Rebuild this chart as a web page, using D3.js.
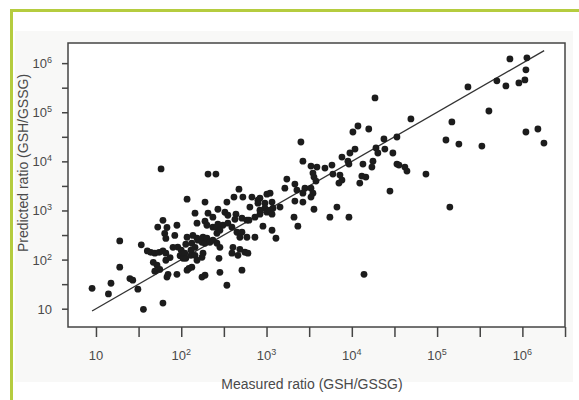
<!DOCTYPE html>
<html>
<head>
<meta charset="utf-8">
<script src="https://cdn.jsdelivr.net/npm/d3@7"></script>
<style>
  body { margin: 0; background: #fff; }
  text { font-family: "Liberation Sans", Arial, sans-serif; fill: #4a4a4a; }
</style>
</head>
<body>
<svg id="chart" width="579" height="400"></svg>
<script>
// measured vs predicted GSH/GSSG ratio
const measured = [
    9, 14, 15, 19, 19, 25, 27, 31, 36, 34,
    40, 44, 49, 55, 61, 66, 47, 52, 49, 56,
    66, 74, 68, 70, 89, 61, 53, 61, 68, 64,
    66, 89, 84, 58, 91, 100, 97, 110, 105, 117,
    123, 133, 117, 145, 137, 117, 133, 113, 80, 153,
    130, 145, 153, 157, 113, 130, 145, 175, 180, 190,
    200, 217, 235, 262, 284, 175, 180, 190, 175, 284,
    343, 190, 206, 255, 206, 269, 325, 352, 438, 426,
    190, 235, 269, 308, 200, 235, 262, 284, 343, 415,
    528, 674, 793, 837, 1010, 1100, 352, 393, 450, 515,
    589, 487, 589, 393, 462, 558, 487, 404, 515, 731,
    622, 731, 837, 957, 1010, 1190, 1440, 908, 1160, 1290,
    475, 638, 837, 957, 1100, 1160, 1160, 793, 262, 1640,
    1730, 2150, 2270, 2820, 3320, 3500, 3320, 2670, 2150, 2670,
    3600, 6690, 5530, 9250, 2100, 2330, 2530, 2670, 3320, 3900,
    4840, 5850, 3500, 3600, 3800, 7260, 7660, 7060, 7660, 9000,
    9500, 10900, 9250, 6000, 11800, 10300, 15800, 18700, 13500, 13100,
    14600, 12400, 17700, 17200, 19200, 20200, 24400, 30300, 23800, 33800,
    33800, 35700, 41900, 44300, 28000, 49300, 74000, 13900, 127000, 149000,
    141000, 180000, 230000, 335000, 405000, 502000, 641000, 714000, 910000, 1070000,
    1100000, 1130000, 1100000, 1520000, 1790000, 605, 277, 515, 153
];
const predicted = [
    26, 20, 33, 240, 70, 41, 38, 25, 9.7, 200,
    150, 140, 135, 140, 150, 135, 88, 77, 58, 63,
    97, 110, 44, 50, 50, 13, 460, 630, 450, 340,
    270, 500, 310, 7000, 180, 155, 120, 135, 106, 61,
    66, 70, 1700, 880, 310, 285, 215, 205, 178, 550,
    155, 178, 272, 248, 106, 122, 122, 225, 285, 215,
    272, 225, 248, 215, 178, 111, 135, 48, 44, 55,
    30, 1480, 5500, 5500, 880, 1060, 920, 800, 840, 660,
    605, 456, 525, 500, 500, 730, 456, 396, 1480, 1870,
    1870, 1870, 1620, 1780, 2150, 2250, 551, 456, 360, 697,
    634, 285, 285, 135, 122, 141, 162, 178, 61, 285,
    634, 730, 840, 1110, 923, 1110, 1170, 479, 396, 272,
    2720, 1170, 1010, 1410, 1010, 1480, 840, 1410, 344, 2850,
    4350, 3440, 2600, 2850, 2850, 2250, 1870, 2250, 1550, 1480,
    1060, 1170, 730, 730, 730, 479, 24800, 10100, 8020, 7650,
    7300, 8400, 5770, 4780, 3960, 5250, 4150, 3610, 12200, 10100,
    14800, 17800, 8810, 5500, 52500, 39600, 45600, 196000, 8810, 5010,
    4780, 3610, 10100, 7650, 18700, 14800, 17800, 14800, 28500, 31300,
    8810, 8400, 7650, 6340, 2480, 73000, 5500, 50, 27200, 63400,
    1170, 22500, 328000, 20500, 106000, 436000, 344000, 1220000, 396000, 456000,
    730000, 1280000, 39600, 45600, 23600, 135, 106, 360, 97
];

// fitted line ends
const fitMeasured = [9, 1800000];
const fitPredicted = [9, 1800000];

// axis extents and ticks
const xDomain = [4.7, 3160000];
const yDomain = [4.24, 2570000];
const majorTicks = [10, 100, 1000, 10000, 100000, 1000000];
const majorExp = ["", "2", "3", "4", "5", "6"];
const halfTicksX = [31.6, 316, 3162, 31623, 316228, 3162278];
const halfTicksY = [31.6, 316, 3162, 31623, 316228];

const svg = d3.select("#chart");
const plotLeft = 68, plotRight = 565, plotTop = 43, plotBottom = 327;

// green page border + pale panel
svg.append("rect").attr("x", 15).attr("y", 31).attr("width", 558).attr("height", 351).attr("fill", "#f8f8f7");
svg.append("line").attr("x1", 10).attr("x2", 579).attr("y1", 10.5).attr("y2", 10.5)
    .attr("stroke", "#b5cc3f").attr("stroke-width", 3);
svg.append("line").attr("x1", 11.5).attr("x2", 11.5).attr("y1", 9).attr("y2", 400)
    .attr("stroke", "#b5cc3f").attr("stroke-width", 3);

let x = d3.scaleLog().domain(xDomain).range([plotLeft, plotRight]);
let y = d3.scaleLog().domain(yDomain).range([plotBottom, plotTop]);

svg.append("rect").attr("x", plotLeft).attr("y", plotTop)
    .attr("width", plotRight - plotLeft).attr("height", plotBottom - plotTop)
    .attr("fill", "#fff").attr("stroke", "#444").attr("stroke-width", 1.5);

// ticks
let xAxis = svg.append("g").attr("transform", `translate(0,${plotBottom})`)
    .call(d3.axisBottom(x).tickValues(majorTicks.concat(halfTicksX)).tickSize(10).tickFormat(""));
let yAxis = svg.append("g").attr("transform", `translate(${plotLeft},0)`)
    .call(d3.axisLeft(y).tickValues(majorTicks.concat(halfTicksY)).tickSize(6).tickFormat(""));
[xAxis, yAxis].forEach(g => {
    g.select(".domain").remove();
    g.selectAll(".tick line").attr("stroke", "#444").attr("stroke-width", 1.5);
});

// tick labels with superscripts
majorTicks.forEach((v, i) => {
    let t = svg.append("text").attr("x", x(v)).attr("y", 360)
        .attr("text-anchor", "middle").attr("font-size", 13).text("10");
    if (majorExp[i]) t.append("tspan").attr("dy", -5).attr("font-size", 9).text(majorExp[i]);
    let u = svg.append("text").attr("x", 52).attr("y", y(v) + 5)
        .attr("text-anchor", "end").attr("font-size", 13).text("10");
    if (majorExp[i]) u.append("tspan").attr("dy", -5).attr("font-size", 9).text(majorExp[i]);
});

svg.append("text").attr("x", 312).attr("y", 389).attr("text-anchor", "middle")
    .attr("font-size", 14).text("Measured ratio (GSH/GSSG)");
svg.append("text").attr("transform", "translate(28,163) rotate(-90)").attr("text-anchor", "middle")
    .attr("font-size", 14).text("Predicted ratio (GSH/GSSG)");

// regression line
svg.append("line")
    .attr("x1", x(fitMeasured[0])).attr("y1", y(fitPredicted[0]))
    .attr("x2", x(fitMeasured[1])).attr("y2", y(fitPredicted[1]))
    .attr("stroke", "#333").attr("stroke-width", 1.3);

// points
svg.append("g").selectAll("circle")
    .data(measured.map((m, i) => [m, predicted[i]]))
    .join("circle")
    .attr("cx", d => x(d[0]))
    .attr("cy", d => y(d[1]))
    .attr("r", 3.4)
    .attr("fill", "#1c1c1c");
</script>
</body>
</html>
